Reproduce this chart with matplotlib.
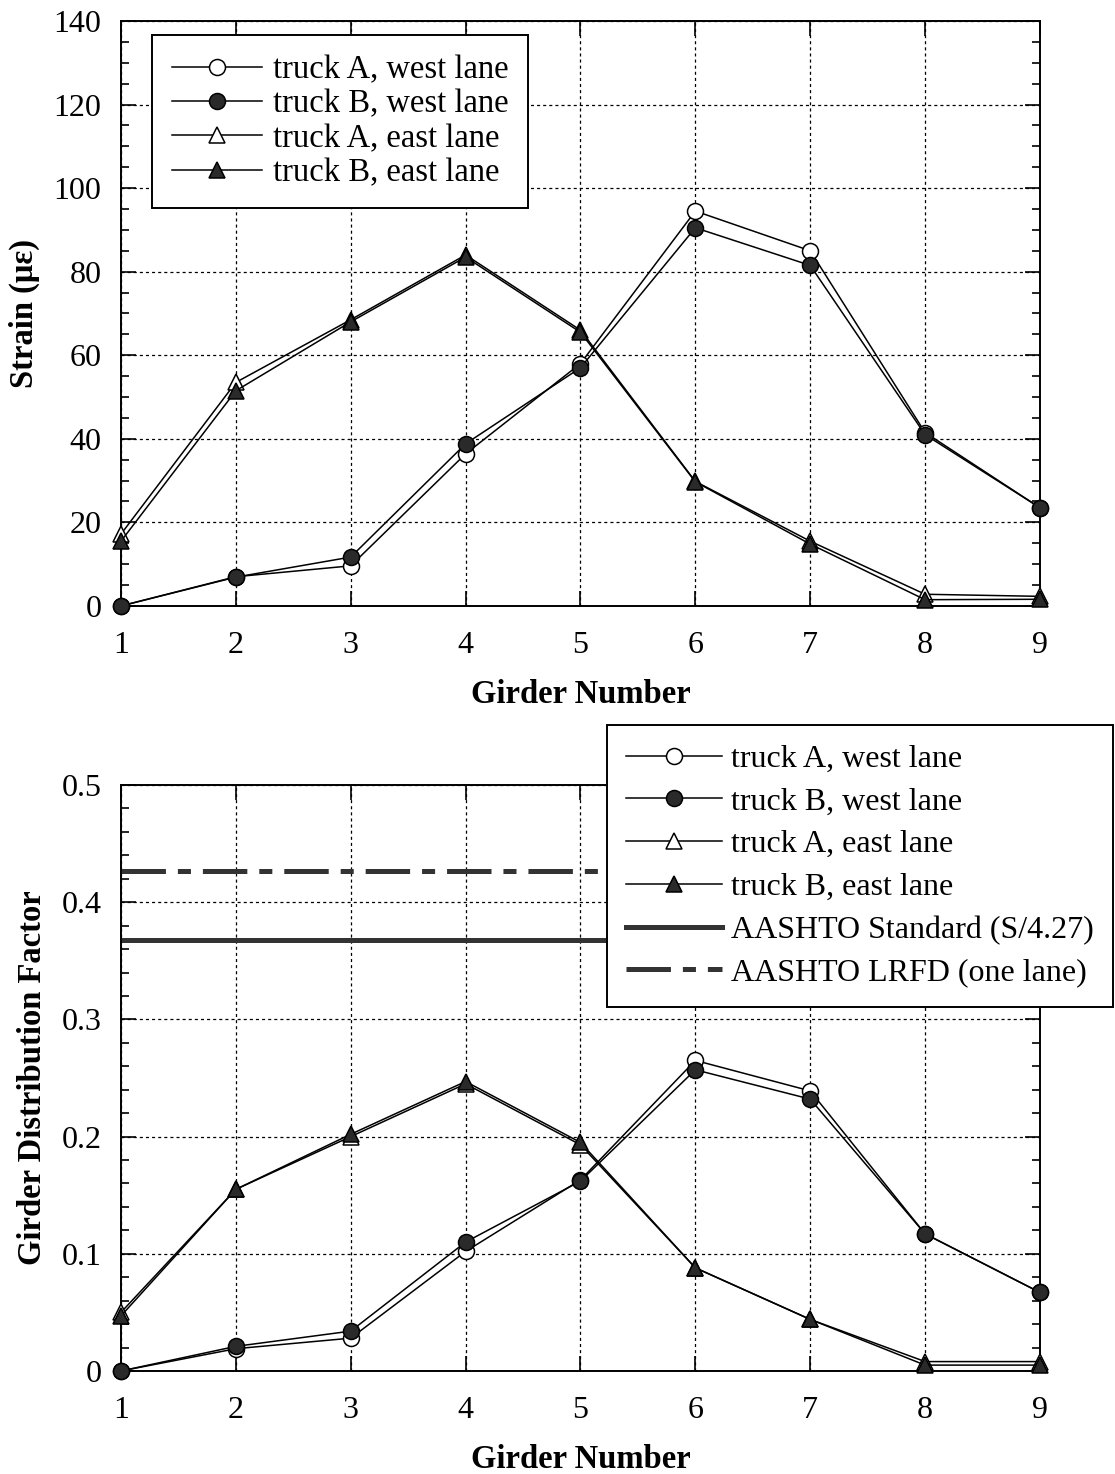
import matplotlib
matplotlib.use("Agg")
import matplotlib.pyplot as plt
from matplotlib.ticker import MultipleLocator

plt.rcParams['font.family'] = ['Liberation Serif', 'DejaVu Serif']
plt.rcParams['lines.scale_dashes'] = False

# girder numbers
girders = [1, 2, 3, 4, 5, 6, 7, 8, 9]

# measured strain (micro-strain)
strain_a_west = [0, 7, 9.6, 36.4, 58, 94.5, 85, 41.5, 23.5]
strain_b_west = [0, 6.9, 11.7, 38.8, 57, 90.5, 81.5, 41, 23.5]
strain_a_east = [17.2, 53.5, 68.5, 84, 66, 29.8, 15.5, 2.8, 2.3]
strain_b_east = [15.5, 51.5, 68, 83.5, 65.5, 29.7, 14.8, 1.5, 1.6]

# girder distribution factors
gdf_a_west = [0, 0.019, 0.028, 0.102, 0.163, 0.265, 0.239, 0.117, 0.067]
gdf_b_west = [0, 0.021, 0.034, 0.110, 0.162, 0.257, 0.232, 0.117, 0.067]
gdf_a_east = [0.050, 0.155, 0.200, 0.245, 0.193, 0.088, 0.044, 0.008, 0.008]
gdf_b_east = [0.047, 0.155, 0.202, 0.247, 0.195, 0.088, 0.044, 0.005, 0.005]

aashto_standard = 0.368   # S/4.27
aashto_lrfd = 0.427       # one lane

series_names = ['truck A, west lane', 'truck B, west lane',
                'truck A, east lane', 'truck B, east lane']

fs = 23.5     # labels / legend
tfs = 23      # tick labels
fig = plt.figure(figsize=(11.15, 14.74), dpi=100)
ax1 = fig.add_axes([0.1085, 0.5889, 0.8242, 0.3969])
ax2 = fig.add_axes([0.1085, 0.0699, 0.8242, 0.3975])

fill_col = '#2a2a2a'
styles = [dict(marker='o', mfc='white'),
          dict(marker='o', mfc=fill_col),
          dict(marker='^', mfc='white'),
          dict(marker='^', mfc=fill_col)]


def draw_series(ax, data):
  for vals, st, name in zip(data, styles, series_names):
    ax.plot(girders, vals, color='black', lw=1.1, mec='black', mew=1.1,
            ms=11.5, label=name, clip_on=False, zorder=3, **st)


def dress_axes(ax, ymax, major, minor, labels):
  ax.set_xlim(1, 9)
  ax.set_ylim(0, ymax)
  ax.set_xticks(girders)
  ax.set_xticklabels([str(g) for g in girders])
  yt = [i * major for i in range(len(labels))]
  ax.set_yticks(yt)
  ax.set_yticklabels(labels)
  ax.yaxis.set_minor_locator(MultipleLocator(minor))
  ax.grid(True, which='major', color='black', lw=0.9, ls=(0, (2.2, 2.2)))
  ax.tick_params(which='both', direction='in', top=True, right=True,
                 labelsize=tfs, width=1.2)
  ax.tick_params(axis='x', which='major', length=11, pad=18)
  ax.tick_params(axis='y', which='major', length=11, pad=14)
  ax.tick_params(axis='y', which='minor', length=6)
  for s in ax.spines.values():
    s.set_linewidth(1.4)
  ax.set_xlabel('Girder Number', fontsize=fs, fontweight='bold', labelpad=14)


# top: strain
draw_series(ax1, [strain_a_west, strain_b_west, strain_a_east, strain_b_east])
dress_axes(ax1, 140, 20, 5, ['0', '20', '40', '60', '80', '100', '120', '140'])
ax1.set_ylabel('Strain (με)', fontsize=fs, fontweight='bold', labelpad=10)
leg1 = ax1.legend(loc='upper left', bbox_to_anchor=(0.034, 0.976),
                  borderaxespad=0, fontsize=fs, handlelength=2.75,
                  labelspacing=0.12, fancybox=False, framealpha=1,
                  edgecolor='black', borderpad=0.6, handletextpad=0.35)
leg1.get_frame().set_linewidth(1.4)

# bottom: distribution factor
draw_series(ax2, [gdf_a_west, gdf_b_west, gdf_a_east, gdf_b_east])
ax2.axhline(aashto_standard, color='#333333', lw=3.6, zorder=2,
            label='AASHTO Standard (S/4.27)')
ax2.axhline(aashto_lrfd, color='#333333', lw=3.6, zorder=2,
            ls=(0, (32, 8.6, 9.4, 8.6)), label='AASHTO LRFD (one lane)')
dress_axes(ax2, 0.5, 0.1, 0.02, ['0', '0.1', '0.2', '0.3', '0.4', '0.5'])
ax2.set_ylabel('Girder Distribution Factor', fontsize=fs, fontweight='bold',
               labelpad=10)
leg2 = ax2.legend(loc='upper right', bbox_to_anchor=(0.9985, 0.508),
                  bbox_transform=fig.transFigure, borderaxespad=0,
                  fontsize=23, handlelength=3.0, labelspacing=0.42,
                  fancybox=False, framealpha=1, edgecolor='black',
                  borderpad=0.6, handletextpad=0.3)
leg2.get_frame().set_linewidth(1.4)
leg2.set_zorder(5)

plt.savefig('out.png', dpi=100)
plt.close()
